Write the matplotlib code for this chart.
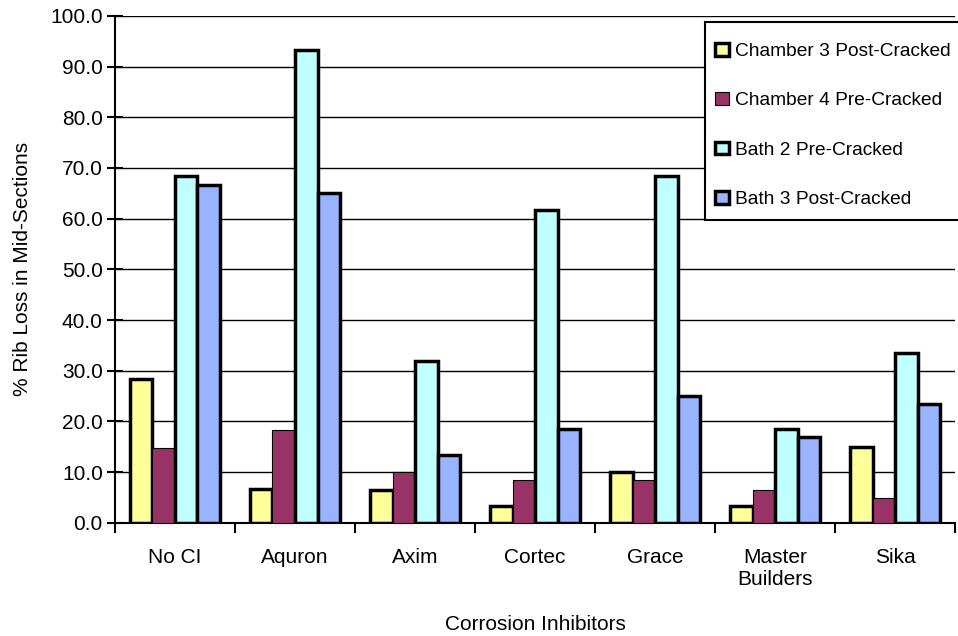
import numpy as np
import matplotlib.pyplot as plt
from matplotlib.patches import Rectangle

plt.rcParams['font.family'] = ['Liberation Sans', 'DejaVu Sans']

categories = ['No CI', 'Aquron', 'Axim', 'Cortec', 'Grace', 'Master\nBuilders', 'Sika']
series_names = ['Chamber 3 Post-Cracked', 'Chamber 4 Pre-Cracked',
                'Bath 2 Pre-Cracked', 'Bath 3 Post-Cracked']
chamber3_post = [28.4, 6.7, 6.5, 3.4, 10.1, 3.3, 14.9]
chamber4_pre = [14.8, 18.3, 10.0, 8.4, 8.4, 6.5, 4.8]
bath2_pre = [68.4, 93.3, 31.9, 61.8, 68.4, 18.5, 33.5]
bath3_post = [66.6, 65.0, 13.3, 18.5, 25.0, 16.9, 23.5]

colors = ['#FFFF99', '#993366', '#C0FFFF', '#99B3FF']
edge_widths = [2.5, 0.8, 2.5, 2.5]

W, H = 958, 636
fig = plt.figure(figsize=(W / 100, H / 100), dpi=100)
ax = fig.add_axes([0.12, 0.178, 0.877, 0.797])

x = np.arange(len(categories))
w = 0.1875
data = [chamber3_post, chamber4_pre, bath2_pre, bath3_post]
for i, vals in enumerate(data):
    ax.bar(x + (i - 1.5) * w, vals, width=w, color=colors[i],
           edgecolor='black', linewidth=edge_widths[i], label=series_names[i], zorder=3)

ax.set_xlim(-0.5, len(categories) - 0.5)
ax.set_ylim(0, 100)
ax.set_yticks(np.arange(0, 101, 10))
ax.set_yticklabels([f'{v:.1f}' for v in np.arange(0, 101, 10)], fontsize=15)
ax.yaxis.grid(True, color='black', linewidth=1.0, zorder=0)
ax.set_axisbelow(True)

ax.set_xticks(x)
ax.set_xticklabels(categories, fontsize=15)
ax.set_xticks(np.arange(len(categories) + 1) - 0.5, minor=True)
ax.tick_params(axis='x', which='major', length=0, pad=18)
ax.tick_params(axis='x', which='minor', length=7, width=1.5, direction='out')
ax.tick_params(axis='y', length=11.5, width=1.5, direction='inout', pad=3)

for s in ['top', 'right']:
    ax.spines[s].set_visible(False)
ax.spines['left'].set_linewidth(1.5)
ax.spines['bottom'].set_linewidth(1.5)

ax.set_ylabel('% Rib Loss in Mid-Sections', fontsize=15, labelpad=13)
ax.set_xlabel('Corrosion Inhibitors', fontsize=15, labelpad=19)

# legend box runs off the right edge of the figure, so draw the frame separately
frame = Rectangle((705 / W, 1 - 220 / H), 260 / W, 198 / H, transform=fig.transFigure,
                  facecolor='white', edgecolor='black', linewidth=1.5, zorder=4)
fig.add_artist(frame)
leg = fig.legend(loc='upper left', bbox_to_anchor=(715 / W, 1 - 43 / H),
                 fontsize=13.8, frameon=False, handlelength=0.75, handleheight=0.65,
                 handletextpad=0.27, labelspacing=1.68, borderpad=0,
                 borderaxespad=0)

fig.savefig('out.png', dpi=100)
